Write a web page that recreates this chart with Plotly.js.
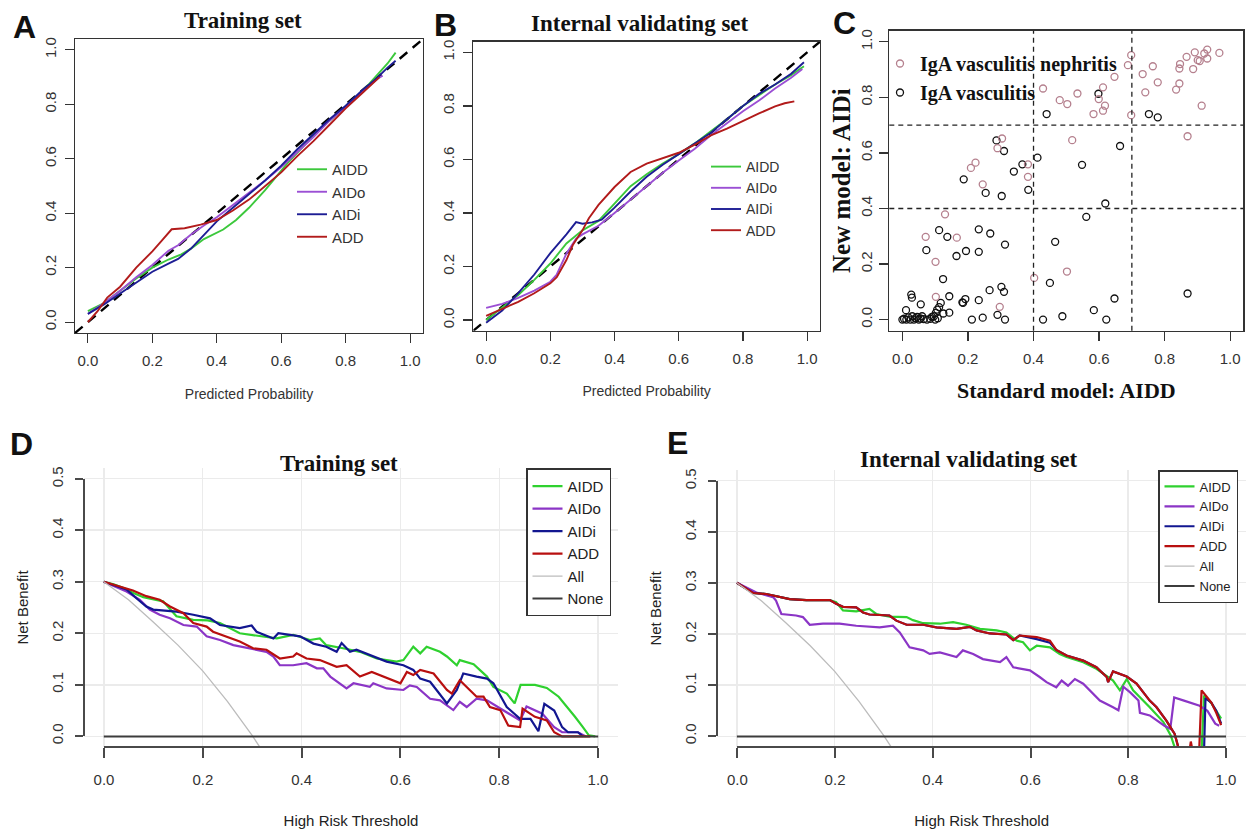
<!DOCTYPE html>
<html><head><meta charset="utf-8">
<script src="https://cdn.plot.ly/plotly-3.0.1.min.js"></script>
<style>html,body{margin:0;padding:0;background:#fff}#chart{width:1251px;height:831px}</style>
</head><body><div id="chart"></div>
<script>
// ---------------- DATA ----------------
const models = ['AIDD', 'AIDo', 'AIDi', 'ADD'];
const tickVals01 = [0, 0.2, 0.4, 0.6, 0.8, 1.0];
const tickValsNB = [0, 0.1, 0.2, 0.3, 0.4, 0.5];
const diagLine = [-0.04, 1.04];
const cutoffs = [0.4, 0.7];

// Panel A: calibration, training set
const trainCalX_AIDD = [0, .05, .1, .15, .2, .25, .29, .32, .36, .42, .46, .5, .55, .59, .62, .66, .7, .75, .8, .85, .9, .93, .955];
const trainCalY_AIDD = [.04, .07, .115, .16, .2, .23, .249, .27, .305, .34, .375, .42, .485, .54, .585, .635, .685, .74, .79, .845, .91, .95, .99];
const trainCalX_AIDo = [0, .05, .1, .15, .2, .25, .28, .32, .36, .4, .45, .5, .55, .6, .65, .7, .75, .8, .85, .9, .915];
const trainCalY_AIDo = [.03, .07, .115, .165, .21, .262, .282, .322, .355, .385, .43, .475, .52, .57, .625, .68, .74, .79, .845, .895, .905];
const trainCalX_AIDi = [0, .05, .1, .15, .2, .25, .28, .32, .36, .4, .45, .5, .55, .6, .65, .7, .75, .8, .85, .9, .93, .955];
const trainCalY_AIDi = [.03, .065, .105, .145, .185, .215, .232, .27, .32, .37, .42, .47, .52, .575, .635, .69, .745, .795, .85, .9, .935, .96];
const trainCalX_ADD = [0, .03, .06, .1, .15, .2, .23, .26, .3, .35, .4, .45, .5, .55, .6, .65, .7, .75, .8, .85, .9, .905];
const trainCalY_ADD = [0, .04, .09, .13, .2, .26, .3, .341, .345, .358, .375, .41, .45, .5, .55, .61, .665, .725, .785, .84, .895, .9];

// Panel B: calibration, internal validating set
const validCalX_AIDD = [0, .05, .1, .15, .2, .25, .3, .35, .4, .45, .5, .55, .6, .65, .7, .75, .8, .85, .9, .95, .99];
const validCalY_AIDD = [0, .045, .093, .15, .211, .286, .335, .37, .435, .5, .545, .585, .62, .66, .705, .75, .8, .84, .88, .915, .948];
const validCalX_AIDo = [0, .05, .1, .15, .2, .22, .25, .28, .3, .35, .4, .45, .5, .55, .6, .65, .7, .75, .8, .85, .9, .95, .985];
const validCalY_AIDo = [.045, .06, .083, .11, .143, .17, .248, .304, .32, .352, .4, .45, .5, .55, .596, .64, .69, .735, .78, .82, .865, .905, .938];
const validCalX_AIDi = [0, .05, .1, .15, .2, .23, .25, .28, .3, .33, .36, .4, .45, .5, .55, .6, .65, .7, .75, .8, .85, .9, .95, .99];
const validCalY_AIDi = [-.01, .035, .1, .17, .25, .29, .32, .366, .36, .365, .375, .42, .48, .535, .58, .62, .66, .7, .75, .8, .845, .88, .92, .963];
const validCalX_ADD = [0, .05, .1, .15, .2, .22, .25, .27, .3, .32, .35, .4, .45, .5, .55, .6, .65, .7, .75, .8, .85, .9, .93, .96];
const validCalY_ADD = [.015, .04, .068, .1, .137, .16, .224, .28, .335, .38, .43, .497, .553, .584, .605, .625, .655, .69, .715, .745, .772, .798, .81, .817];

// Panel C: reclassification scatter (x = AIDD, y = AIDi)
const nephX = [.698, .688, .733, .764, .741, .779, .647, .612, .599, .618, .612, .583, .534, .48, .503, .429, .698, .835, .845, .845, .847, .867, .887, .892, .901, .93, .93, .921, .967, .913, .87, .518, .304, .29, .209, .223, .245, .383, .383, .13, .071, .166, .101, .102, .297, .402, .502, .907];
const nephY = [.952, .916, .884, .912, .818, .854, .874, .836, .794, .77, .752, .74, .814, .79, .776, .832, .736, .828, .85, .904, .92, .946, .902, .962, .934, .972, .94, .958, .96, .77, .66, .646, .652, .617, .546, .565, .487, .559, .514, .379, .298, .295, .208, .082, .046, .15, .173, .931];
const vascX = [.598, .44, .752, .779, .664, .287, .31, .412, .366, .34, .548, .187, .254, .303, .384, .619, .561, .466, .313, .268, .233, .112, .137, .073, .165, .194, .233, .124, .45, .266, .302, .31, .233, .143, .183, .192, .647, .87, .584, .488, .429, .622, .212, .245, .29, .313, .143, .125, .027, .029, .011, .056, .117, .112, .106, .102, .096, .185, 0, .005, .012, .018, .024, .03, .035, .04, .045, .05, .055, .06, .065, .075, .085, .09, .1, .108];
const vascY = [.813, .74, .74, .728, .625, .645, .607, .583, .559, .533, .557, .505, .456, .445, .467, .418, .37, .28, .27, .31, .325, .322, .298, .25, .229, .247, .244, .146, .132, .106, .118, .1, .07, .084, .062, .074, .076, .094, .034, .012, 0, 0, 0, .007, .017, 0, .025, .022, .09, .079, .034, .055, .06, .045, .036, .024, .012, .06, 0, .003, 0, .008, 0, .012, 0, .005, .01, 0, .004, .012, .002, 0, .003, .01, 0, .005];

// Panel D: decision curves, training set  [threshold, net benefit]
const dcaTrain_AIDD = [[0,.3],[.02,.295],[.04,.288],[.06,.278],[.08,.27],[.1,.266],[.12,.262],[.147,.233],[.181,.226],[.21,.225],[.235,.22],[.275,.2],[.316,.194],[.35,.19],[.383,.197],[.417,.187],[.437,.19],[.45,.177],[.484,.171],[.518,.164],[.552,.151],[.569,.148],[.592,.145],[.606,.148],[.626,.174],[.64,.161],[.653,.174],[.68,.164],[.694,.155],[.714,.138],[.72,.148],[.748,.14],[.775,.116],[.788,.096],[.815,.083],[.831,.064],[.843,.1],[.872,.1],[.896,.094],[.92,.077],[.937,.058],[.953,.038],[.969,.018],[.981,.002],[.994,0]];
const dcaTrain_AIDo = [[0,.3],[.046,.281],[.073,.265],[.093,.246],[.113,.236],[.134,.229],[.161,.216],[.188,.213],[.208,.194],[.235,.187],[.262,.177],[.296,.171],[.329,.164],[.343,.155],[.356,.138],[.383,.138],[.41,.142],[.431,.132],[.444,.132],[.458,.116],[.491,.093],[.505,.103],[.538,.096],[.545,.103],[.572,.093],[.606,.09],[.619,.099],[.633,.096],[.66,.073],[.68,.07],[.707,.051],[.72,.067],[.734,.057],[.754,.073],[.775,.07],[.802,.054],[.842,.031],[.855,.058],[.887,.044],[.911,.018],[.927,.008],[.959,.008],[.975,0]];
const dcaTrain_AIDi = [[0,.3],[.046,.285],[.066,.268],[.086,.252],[.1,.246],[.147,.242],[.181,.236],[.215,.229],[.235,.216],[.275,.21],[.299,.215],[.309,.203],[.343,.19],[.353,.2],[.397,.194],[.424,.18],[.45,.174],[.471,.164],[.481,.181],[.498,.164],[.511,.168],[.538,.158],[.572,.145],[.606,.138],[.626,.129],[.64,.112],[.66,.106],[.673,.09],[.694,.064],[.714,.09],[.727,.122],[.754,.116],[.775,.112],[.788,.103],[.815,.057],[.842,.034],[.863,.034],[.879,.01],[.891,.063],[.911,.05],[.927,.018],[.939,.008],[.959,.008],[.969,0]];
const dcaTrain_ADD = [[0,.3],[.059,.283],[.086,.272],[.113,.265],[.134,.252],[.161,.239],[.181,.22],[.208,.213],[.221,.203],[.248,.194],[.275,.184],[.302,.171],[.329,.168],[.356,.151],[.383,.155],[.39,.161],[.41,.151],[.437,.148],[.471,.135],[.491,.138],[.518,.116],[.542,.125],[.559,.119],[.592,.106],[.6,.103],[.613,.125],[.626,.119],[.64,.129],[.667,.122],[.694,.09],[.704,.083],[.72,.109],[.734,.096],[.754,.077],[.768,.077],[.781,.057],[.802,.051],[.818,.021],[.842,.018],[.847,.054],[.872,.038],[.896,.031],[.911,.008],[.927,0],[.984,0]];
const dcaTrain_All = [[0,.3],[.05,.265],[.1,.222],[.15,.177],[.2,.127],[.25,.068],[.3,.002],[.315,-.02]];
const dcaTrain_None = [[0,0],[1,0]];

// Panel E: decision curves, internal validating set
const dcaValid_AIDD = [[0,.3],[.033,.28],[.06,.278],[.087,.272],[.108,.268],[.142,.266],[.19,.266],[.203,.262],[.217,.246],[.244,.244],[.271,.249],[.285,.239],[.312,.234],[.347,.233],[.36,.227],[.381,.221],[.415,.22],[.442,.223],[.469,.218],[.497,.21],[.531,.207],[.551,.203],[.572,.187],[.585,.184],[.599,.168],[.613,.177],[.64,.174],[.66,.161],[.674,.155],[.708,.145],[.735,.132],[.769,.109],[.783,.09],[.797,.112],[.81,.09],[.844,.057],[.872,.028],[.887,.002],[.898,-.03],[.95,-.03],[.955,.08],[.97,.065],[.99,.035]];
const dcaValid_AIDo = [[0,.3],[.04,.281],[.074,.272],[.08,.265],[.091,.239],[.108,.238],[.121,.236],[.135,.233],[.149,.218],[.176,.22],[.21,.22],[.244,.216],[.292,.213],[.319,.216],[.333,.203],[.353,.174],[.381,.168],[.394,.161],[.415,.164],[.449,.155],[.462,.168],[.483,.161],[.503,.151],[.538,.145],[.551,.155],[.565,.135],[.599,.129],[.619,.116],[.633,.106],[.653,.096],[.664,.109],[.677,.099],[.691,.112],[.708,.103],[.722,.09],[.742,.07],[.769,.057],[.78,.051],[.79,.097],[.804,.086],[.821,.07],[.824,.046],[.844,.041],[.874,.021],[.886,.015],[.894,.076],[.914,.07],[.946,.06],[.962,.05],[.978,.025],[.986,.021]];
const dcaValid_AIDi = [[0,.3],[.033,.28],[.06,.278],[.087,.272],[.108,.268],[.142,.266],[.19,.266],[.203,.259],[.217,.253],[.244,.252],[.258,.242],[.271,.238],[.312,.236],[.326,.226],[.347,.218],[.381,.218],[.408,.213],[.449,.21],[.476,.214],[.49,.207],[.517,.201],[.551,.199],[.565,.188],[.578,.197],[.613,.19],[.64,.183],[.653,.169],[.674,.158],[.708,.148],[.735,.135],[.756,.116],[.759,.106],[.769,.127],[.797,.117],[.817,.103],[.844,.07],[.858,.057],[.878,.031],[.895,.005],[.905,-.03],[.955,-.03],[.958,.075],[.97,.066],[.98,.05],[.99,.025]];
const dcaValid_ADD = [[0,.3],[.033,.28],[.06,.278],[.087,.272],[.108,.268],[.142,.266],[.19,.266],[.203,.259],[.217,.253],[.244,.252],[.258,.242],[.271,.238],[.312,.236],[.326,.226],[.347,.218],[.381,.218],[.408,.213],[.449,.21],[.476,.214],[.49,.207],[.517,.201],[.551,.199],[.565,.188],[.578,.197],[.613,.194],[.64,.187],[.653,.169],[.674,.158],[.708,.148],[.735,.135],[.756,.116],[.759,.106],[.769,.127],[.797,.117],[.817,.103],[.844,.07],[.858,.057],[.878,.031],[.895,.005],[.905,-.03],[.925,-.03],[.928,-.01],[.932,-.03],[.945,-.03],[.95,.09],[.96,.078],[.97,.066],[.98,.046],[.99,.022]];
const dcaValid_All = [[0,.3],[.05,.265],[.1,.222],[.15,.177],[.2,.127],[.25,.068],[.3,.002],[.315,-.02]];
const dcaValid_None = [[0,0],[1,0]];

// ---------------- LAYOUT HELPERS ----------------
const W = 1251, H = 831;
const px = v => v / W;
const py = v => 1 - v / H;
const SANS = 'Liberation Sans, Arial, sans-serif';
const SERIF = 'Liberation Serif, Times New Roman, serif';

const calColors = {AIDD: '#3cc83c', AIDo: '#9b4fd4', AIDi: '#1d1d94', ADD: '#b21b1b'};
const dcaColors = {AIDD: '#2fd12f', AIDo: '#8b35c6', AIDi: '#121690', ADD: '#b80f0f', All: '#bcbcbc', None: '#3c3c3c'};

const traces = [];

function calibPanel(xa, ya, legendId, xs, ys) {
  traces.push({type: 'scatter', mode: 'lines', x: diagLine, y: diagLine, xaxis: xa, yaxis: ya,
    line: {color: '#000', width: 2.4, dash: '10px,7px'}, showlegend: false, hoverinfo: 'skip'});
  models.forEach((m, i) => {
    traces.push({type: 'scatter', mode: 'lines', name: m, x: xs[i], y: ys[i], xaxis: xa, yaxis: ya,
      legend: legendId, line: {color: calColors[m], width: 1.9}});
  });
}
calibPanel('x', 'y', 'legend2',
  [trainCalX_AIDD, trainCalX_AIDo, trainCalX_AIDi, trainCalX_ADD],
  [trainCalY_AIDD, trainCalY_AIDo, trainCalY_AIDi, trainCalY_ADD]);
calibPanel('x2', 'y2', 'legend3',
  [validCalX_AIDD, validCalX_AIDo, validCalX_AIDi, validCalX_ADD],
  [validCalY_AIDD, validCalY_AIDo, validCalY_AIDi, validCalY_ADD]);

// Panel C
traces.push({type: 'scatter', mode: 'markers', name: 'IgA vasculitis', x: vascX, y: vascY,
  xaxis: 'x3', yaxis: 'y3', legend: 'legend', legendrank: 2,
  marker: {symbol: 'circle-open', size: 7, color: '#111', line: {width: 1.3}}});
traces.push({type: 'scatter', mode: 'markers', name: 'IgA vasculitis nephritis', x: nephX, y: nephY,
  xaxis: 'x3', yaxis: 'y3', legend: 'legend', legendrank: 1,
  marker: {symbol: 'circle-open', size: 7, color: '#b5808e', line: {width: 1.3}}});

function dcaPanel(xa, ya, xLab, yLab, legendId, series) {
  const names = ['AIDD', 'AIDo', 'AIDi', 'ADD', 'All', 'None'];
  names.forEach((n, i) => {
    const s = series[i];
    traces.push({type: 'scatter', mode: 'lines', name: n, x: s.map(p => p[0]), y: s.map(p => p[1]),
      xaxis: xa, yaxis: ya, legend: legendId,
      line: {color: dcaColors[n], width: n === 'All' ? 1.3 : (n === 'None' ? 2 : 2.2)}});
  });
  traces.push({type: 'scatter', mode: 'lines', x: [], y: [], xaxis: xLab, yaxis: yLab,
    showlegend: false, hoverinfo: 'skip'});
}
dcaPanel('x4', 'y4', 'x5', 'y5', 'legend4',
  [dcaTrain_AIDD, dcaTrain_AIDo, dcaTrain_AIDi, dcaTrain_ADD, dcaTrain_All, dcaTrain_None]);
dcaPanel('x6', 'y6', 'x7', 'y7', 'legend5',
  [dcaValid_AIDD, dcaValid_AIDo, dcaValid_AIDi, dcaValid_ADD, dcaValid_All, dcaValid_None]);

function boxAxis(domain, anchor, isY, extra) {
  return Object.assign({
    domain: domain, anchor: anchor, range: [-0.04, 1.04], tickvals: tickVals01, tickformat: '.1f',
    ticks: 'outside', ticklen: 9, tickwidth: 1.2, tickcolor: '#333',
    showline: true, mirror: true, linecolor: '#333', linewidth: 1.3,
    showgrid: false, zeroline: false, ticklabelstandoff: isY ? 3 : 5,
    tickangle: isY ? -90 : 0,
    tickfont: {family: SANS, size: 15, color: '#333'}
  }, extra || {});
}
function gridAxis(domain, anchor, range, vals) {
  return {domain: domain, anchor: anchor, range: range, tickvals: vals, showticklabels: false,
    ticks: '', showline: false, zeroline: false, showgrid: true, gridcolor: '#ebebeb', gridwidth: 1.5};
}
function labelAxis(domain, position, range, vals, isY, title, standoff) {
  return {domain: domain, anchor: 'free', position: position, range: range, tickvals: vals,
    tickformat: '.1f', ticks: 'outside', ticklen: isY ? 8 : 10, tickwidth: 2, tickcolor: '#4a4a4a',
    showline: true, linecolor: '#4a4a4a', linewidth: 2, showgrid: false, zeroline: false,
    tickangle: isY ? -90 : 0, ticklabelstandoff: isY ? 6 : 9,
    tickfont: {family: SANS, size: 15, color: '#333'},
    title: {text: title, standoff: standoff, font: {family: SANS, size: 15, color: '#222'}}};
}

const titleFont = {family: SERIF, size: 23, color: '#111', weight: 'bold'};
const letterFont = {family: SANS, size: 32, color: '#111', weight: 'bold'};
function ann(text, x, y, font) {
  return {text: text, x: px(x), y: py(y), xref: 'paper', yref: 'paper', showarrow: false,
    xanchor: 'center', yanchor: 'middle', font: font};
}

const shapes = [];
cutoffs.forEach(c => {
  shapes.push({type: 'line', xref: 'x3', yref: 'y3 domain', x0: c, x1: c, y0: 0, y1: 1,
    line: {color: '#222', width: 1.3, dash: '5px,4px'}});
  shapes.push({type: 'line', xref: 'x3 domain', yref: 'y3', x0: 0, x1: 1, y0: c, y1: c,
    line: {color: '#222', width: 1.3, dash: '5px,4px'}});
});

const legBase = {xanchor: 'left', yanchor: 'top', bgcolor: 'rgba(0,0,0,0)', borderwidth: 0,
  itemwidth: 30, tracegroupgap: 0, itemclick: false, itemdoubleclick: false};

const layout = {
  width: W, height: H, margin: {l: 0, r: 0, t: 0, b: 0},
  paper_bgcolor: '#fff', plot_bgcolor: 'rgba(0,0,0,0)',
  showlegend: true, hovermode: false,
  xaxis: boxAxis([px(75), px(423)], 'y', false,
    {title: {text: 'Predicted Probability', standoff: 21, font: {family: SANS, size: 14, color: '#333'}}}),
  yaxis: boxAxis([py(333), py(39)], 'x', true),
  xaxis2: boxAxis([px(473.3), px(820)], 'y2', false,
    {title: {text: 'Predicted Probability', standoff: 20, font: {family: SANS, size: 14, color: '#333'}}}),
  yaxis2: boxAxis([py(330.7), py(41.7)], 'x2', true),
  xaxis3: boxAxis([px(889.3), px(1243.3)], 'y3', false,
    {title: {text: 'Standard model: AIDD', standoff: 16, font: {family: SERIF, size: 22, color: '#111', weight: 'bold'}}}),
  yaxis3: boxAxis([py(330.7), py(30.7)], 'x3', true,
    {ticklabelstandoff: 1,
     title: {text: 'New model: AIDi', standoff: 0, font: {family: SERIF, size: 25, color: '#111', weight: 'bold'}}}),
  xaxis4: gridAxis([px(84), px(618)], 'y4', [-0.04, 1.04], tickVals01),
  yaxis4: gridAxis([py(746.7), py(468.3)], 'x4', [-0.02, 0.52], tickValsNB),
  xaxis5: labelAxis([px(104), px(598)], py(746.7), [0, 1], tickVals01, false, 'High Risk Threshold', 28),
  yaxis5: labelAxis([py(736), py(479)], px(84), [0, 0.5], tickValsNB, true, 'Net Benefit', 16),
  xaxis6: gridAxis([px(717.3), px(1245.6)], 'y6', [-0.04, 1.04], tickVals01),
  yaxis6: gridAxis([py(746.7), py(470)], 'x6', [-0.02, 0.52], tickValsNB),
  xaxis7: labelAxis([px(737.3), px(1226)], py(746.7), [0, 1], tickVals01, false, 'High Risk Threshold', 28),
  yaxis7: labelAxis([py(736), py(481)], px(717.3), [0, 0.5], tickValsNB, true, 'Net Benefit', 16),
  legend: Object.assign({}, legBase, {x: px(880), y: py(44),
    font: {family: SERIF, size: 20, color: '#111', weight: 'bold'}}),
  legend2: Object.assign({}, legBase, {x: px(292), y: py(153),
    font: {family: SANS, size: 15, color: '#333'}}),
  legend3: Object.assign({}, legBase, {x: px(706), y: py(151),
    font: {family: SANS, size: 14, color: '#333'}}),
  legend4: Object.assign({}, legBase, {x: px(526), y: py(468.3), bgcolor: '#fff',
    bordercolor: '#333', borderwidth: 1.5, font: {family: SANS, size: 15, color: '#222'}}),
  legend5: Object.assign({}, legBase, {x: px(1158), y: py(470), bgcolor: '#fff',
    bordercolor: '#333', borderwidth: 1.5, font: {family: SANS, size: 13, color: '#222'}}),
  shapes: shapes,
  annotations: [
    ann('Training set', 243, 20, titleFont),
    ann('Internal validating set', 640, 24, titleFont),
    ann('Training set', 339, 463, titleFont),
    ann('Internal validating set', 968.6, 459.3, titleFont),
    ann('A', 24, 27, letterFont),
    ann('B', 445, 25, letterFont),
    ann('C', 844, 23, letterFont),
    ann('D', 21, 444, letterFont),
    ann('E', 677, 443, letterFont)
  ]
};

Plotly.newPlot('chart', traces, layout, {staticPlot: true, displayModeBar: false});
</script></body></html>
